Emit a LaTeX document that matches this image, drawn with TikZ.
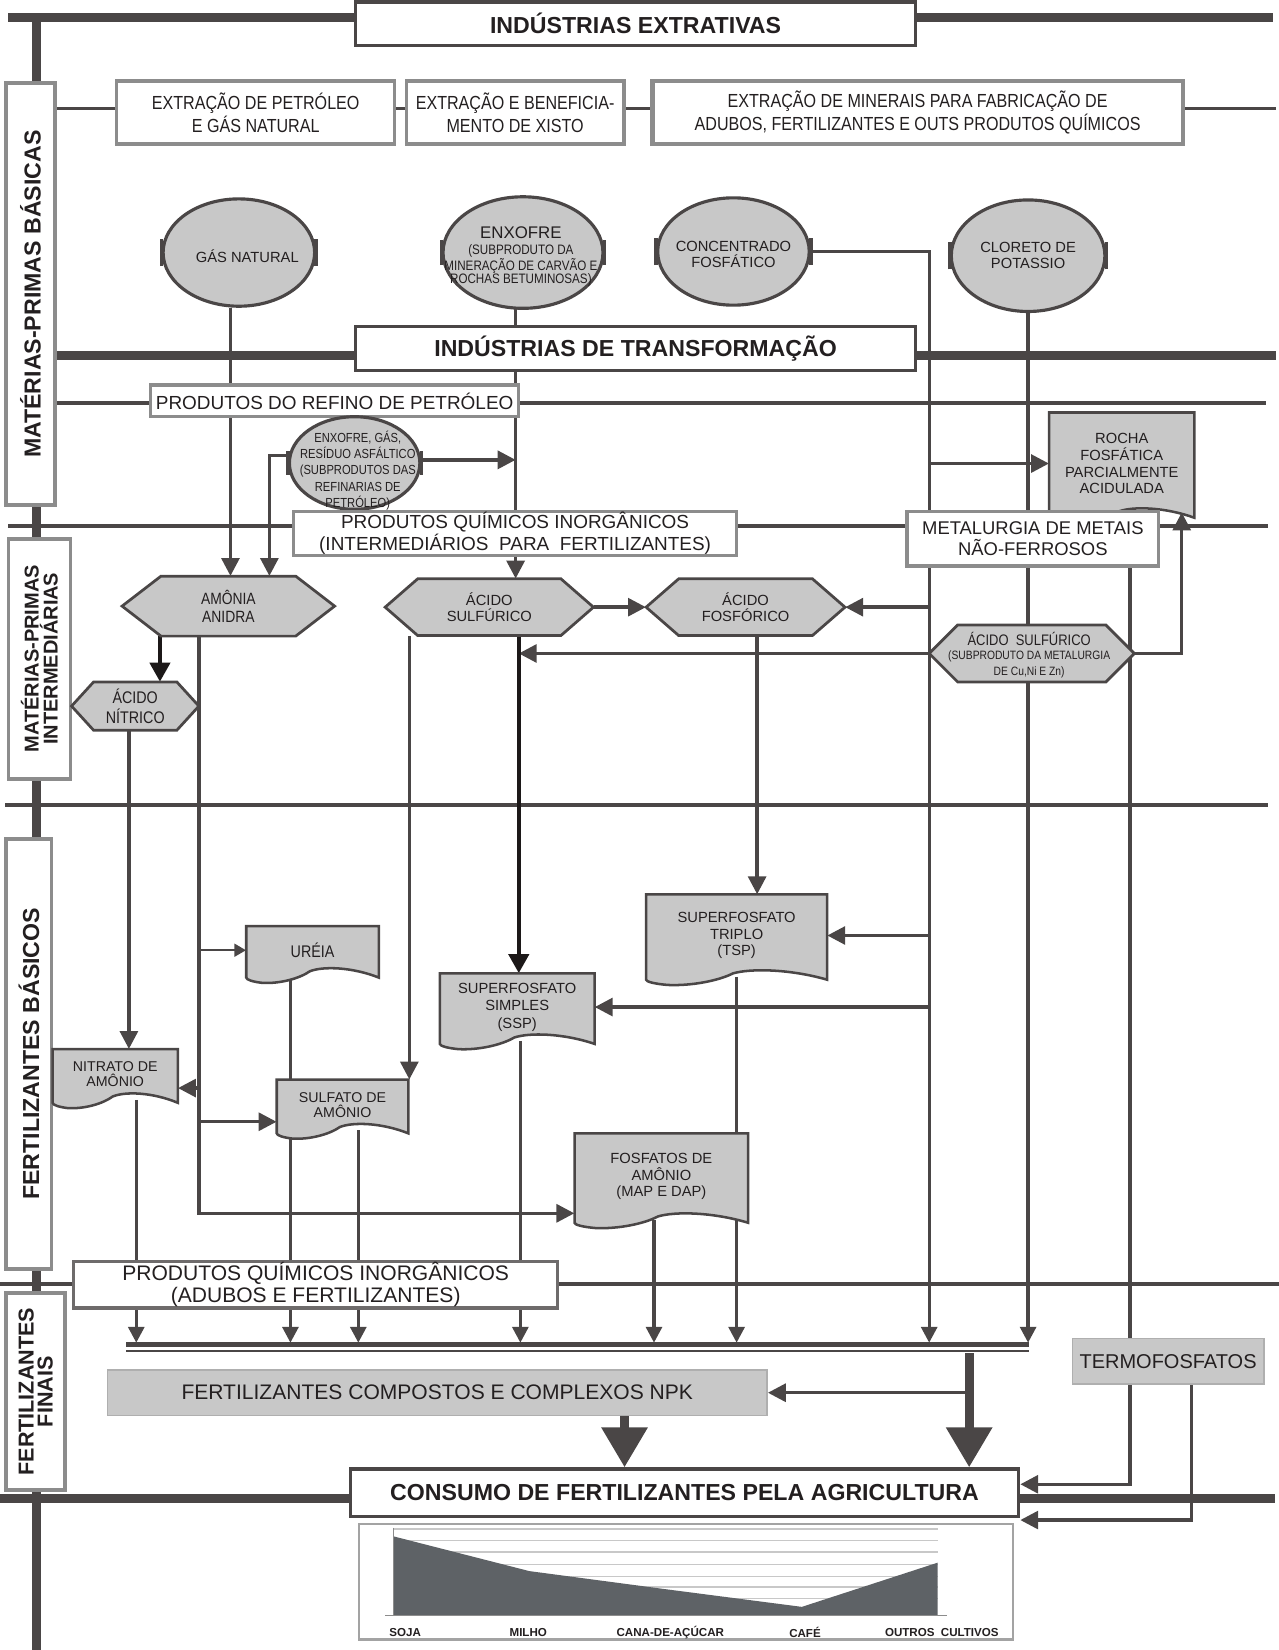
\documentclass[tikz,border=0pt]{standalone}
\usepackage{fontspec}
\setmainfont{Liberation Sans}
\newfontfamily\condfont[FakeStretch=0.85]{Liberation Sans}
\usepackage{xcolor}
\usepackage{tikz}
\usetikzlibrary{shapes.geometric, arrows.meta, backgrounds}

\definecolor{linecol}{HTML}{4A4646}
\definecolor{darkline}{HTML}{1C1818}
\definecolor{boxgray}{HTML}{C8C8C8}
\definecolor{bordgray}{HTML}{8C8C8C}
\definecolor{chartgray}{HTML}{5E6266}
\definecolor{txtcol}{HTML}{231F20}

\newcommand{\fsz}[2]{\fontsize{#1}{#2}\selectfont}

% document shape: name, left, top, right, bottom, font, text
\newcommand{\docnode}[7]{%
  \filldraw[docbox] (#2,#3) -- (#4,#3) -- (#4,#5-5)
    .. controls ({#4-0.2*(#4-#2)},#5-15) and ({#2+0.58*(#4-#2)},#5-16) .. ({#2+0.48*(#4-#2)},#5-11)
    .. controls ({#2+0.4*(#4-#2)},#5-4) and ({#2+0.25*(#4-#2)},#5+1) .. ({#2+0.12*(#4-#2)},#5)
    .. controls ({#2+0.05*(#4-#2)},#5-1) and (#2,#5-3) .. (#2,#5-5) -- cycle;
  \node[doctext, font=#6, minimum width={#4-#2}, minimum height={#5-#3-8}] (#1) at ({(#2+#4)/2},{(#3+#5-8)/2}) {#7};}

% hexagon: name, cx, cy, w, h, inset, font, text
\newcommand{\hexnode}[8]{%
  \filldraw[hexbox] ({#2-#4/2},#3) -- ({#2-#4/2+#6},{#3-#5/2}) -- ({#2+#4/2-#6},{#3-#5/2})
    -- ({#2+#4/2},#3) -- ({#2+#4/2-#6},{#3+#5/2}) -- ({#2-#4/2+#6},{#3+#5/2}) -- cycle;
  \node[hextext, font=#7, minimum width=#4, minimum height=#5] (#1) at (#2,#3) {#8};}

\begin{document}
\begin{tikzpicture}[x=1pt, y=-1pt,
    ln/.style={draw=linecol, line width=3.2pt},
    arr/.style={ln, -{Triangle[length=17pt, width=17pt]}},
    smallarr/.style={ln, line width=2.4pt, -{Triangle[length=11pt, width=12pt]}},
    collarr/.style={ln, -{Triangle[length=15pt, width=15pt]}},
    blackarr/.style={draw=darkline, line width=3.8pt, -{Triangle[length=18pt, width=19pt]}},
    bigarr/.style={ln, line width=8.5pt, -{Triangle[length=38pt, width=42pt]}},
    septhick/.style={draw=linecol, line width=8.5pt},
    septhin/.style={draw=linecol, line width=3.2pt},
    headbox/.style={rectangle, draw=linecol, line width=3.2pt, fill=white, inner sep=0pt, font=\bfseries\fsz{22}{24}, text=txtcol},
    grbox/.style={rectangle, draw=bordgray, line width=3.2pt, fill=white, inner sep=0pt, align=center, text=txtcol},
    catbox/.style={rectangle, draw=bordgray, line width=3.5pt, fill=white, inner sep=0pt, rotate=90, align=center, text=txtcol},
    fillbox/.style={rectangle, draw=bordgray!70, line width=1.5pt, fill=boxgray, inner sep=0pt, text=txtcol},
    ellip/.style={ellipse, draw=linecol, line width=3pt, fill=boxgray, inner sep=0pt},
    etext/.style={align=center, text=txtcol, inner sep=0pt},
    hexbox/.style={draw=linecol, line width=2.6pt, fill=boxgray},
    hextext/.style={inner sep=0pt, align=center, text=txtcol},
    docbox/.style={draw=linecol, line width=2.4pt, fill=boxgray},
    doctext/.style={inner sep=0pt, align=center, text=txtcol},
    ebar/.style={draw=linecol, line width=3.5pt},
    chartlbl/.style={font=\bfseries\fsz{11}{12}, text=txtcol, inner sep=0pt}
]
\useasboundingbox (0,0) rectangle (1215,1568);

% level headers
\node[headbox, minimum width=532pt, minimum height=41pt] (ext) at (604,22.5) {INDÚSTRIAS EXTRATIVAS};
\node[headbox, minimum width=532pt, minimum height=42pt] (tra) at (604,331) {INDÚSTRIAS DE TRANSFORMAÇÃO};
\node[headbox, minimum width=635pt, minimum height=45pt] (cons) at (650.5,1418.5) {CONSUMO DE FERTILIZANTES PELA AGRICULTURA};

% stage labels on the left
\node[catbox, minimum width=401pt, minimum height=47pt, font=\bfseries\fsz{22}{23}] (catmpb) at (29,279.5) {MATÉRIAS-PRIMAS BÁSICAS};
\node[catbox, minimum width=228pt, minimum height=59pt, font=\bfseries\fsz{19}{17}] (catmpi) at (37.5,626) {MATÉRIAS-PRIMAS\\INTERMEDIÁRIAS};
\node[catbox, minimum width=409pt, minimum height=43pt, font=\bfseries\fsz{22}{23}] (catfb) at (27.5,1001.5) {FERTILIZANTES BÁSICOS};
\node[catbox, minimum width=187pt, minimum height=56pt, font=\bfseries\fsz{20.5}{18}] (catff) at (34,1322.5) {FERTILIZANTES\\FINAIS};

% extraction
\node[grbox, minimum width=264pt, minimum height=60pt, font=\condfont\fsz{18}{22}] (petro) at (243,107) {EXTRAÇÃO DE PETRÓLEO\\E GÁS NATURAL};
\node[grbox, minimum width=207pt, minimum height=60pt, font=\condfont\fsz{18}{22}] (xisto) at (489.5,107) {EXTRAÇÃO E BENEFICIA-\\MENTO DE XISTO};
\node[grbox, minimum width=504pt, minimum height=60pt, line width=4pt, font=\condfont\fsz{18}{22}] (minerais) at (872,107) {EXTRAÇÃO DE MINERAIS PARA FABRICAÇÃO DE\\ADUBOS, FERTILIZANTES E OUTS PRODUTOS QUÍMICOS};

% raw materials
\node[ellip, minimum width=144pt, minimum height=102pt] (gas) at (227,240) {};
\node[etext, font=\fsz{14}{16}] (gast) at (235,243) {GÁS NATURAL};
\node[ellip, minimum width=152pt, minimum height=106pt] (enx) at (497,240) {};
\node[etext, font=\fsz{16}{18}] (enxt) at (495,221) {ENXOFRE};
\node[etext, font=\condfont\fsz{13}{12.5}] (enxs) at (495,252) {(SUBPRODUTO DA\\MINERAÇÃO DE CARVÃO E\\ROCHAS BETUMINOSAS)};
\node[ellip, minimum width=144pt, minimum height=102pt] (conc) at (697,239) {};
\node[etext, font=\fsz{14}{15}] (conct) at (697,242) {CONCENTRADO\\FOSFÁTICO};
\node[ellip, minimum width=146pt, minimum height=106pt] (kcl) at (977,243) {};
\node[etext, font=\fsz{14}{15}] (kclt) at (977,243) {CLORETO DE\\POTASSIO};

% refining
\node[grbox, minimum width=350pt, minimum height=30pt, font=\fsz{18}{20}] (refino) at (318,381) {PRODUTOS DO REFINO DE PETRÓLEO};
\node[ellip, minimum width=124pt, minimum height=88pt] (rsub) at (337,440) {};
\node[etext, font=\condfont\fsz{12.5}{15.5}] (rsubt) at (340,447) {ENXOFRE, GÁS,\\RESÍDUO ASFÁLTICO\\(SUBPRODUTOS DAS\\REFINARIAS DE\\PETRÓLEO)};
\docnode{rocha}{997}{392}{1135}{497}{\fsz{14}{16}}{ROCHA\\FOSFÁTICA\\PARCIALMENTE\\ACIDULADA}
\node[grbox, minimum width=421pt, minimum height=42pt, font=\fsz{18}{21}] (pqi) at (489.5,507) {PRODUTOS QUÍMICOS INORGÂNICOS\\(INTERMEDIÁRIOS\ \ PARA\ \ FERTILIZANTES)};
\node[grbox, minimum width=239pt, minimum height=52pt, font=\fsz{17.5}{20}] (metal) at (981.5,512) {METALURGIA DE METAIS\\NÃO-FERROSOS};

% intermediates
\hexnode{amonia}{217}{576}{202}{57}{37}{\condfont\fsz{15.5}{17}}{AMÔNIA\\ANIDRA}
\hexnode{sulf}{465}{577}{198}{54}{31}{\fsz{14}{15}}{ÁCIDO\\SULFÚRICO}
\hexnode{fosf}{708.5}{577}{189}{54}{31}{\fsz{14}{16}}{ÁCIDO\\FOSFÓRICO}
\hexnode{sulfmet}{980.5}{621}{195}{54}{27}{\fsz{14}{16}}{}
\node[etext, font=\condfont\fsz{14.5}{16}] (sulfmett) at (978,607) {ÁCIDO\ \ SULFÚRICO};
\node[etext, font=\condfont\fsz{11.5}{15}] (sulfmets) at (978,631) {(SUBPRODUTO DA METALURGIA\\DE Cu,Ni E Zn)};
\hexnode{nitr}{128.5}{671}{121}{46}{21}{\condfont\fsz{16}{19}}{ÁCIDO\\NÍTRICO}

% basic fertilizers
\docnode{ureia}{234}{880}{360}{934}{\condfont\fsz{16}{18}}{URÉIA}
\docnode{tsp}{614}{850}{786}{936}{\fsz{14}{16}}{SUPERFOSFATO\\TRIPLO\\(TSP)}
\docnode{ssp}{418}{925}{565}{997}{\fsz{14}{16.5}}{SUPERFOSFATO\\SIMPLES\\(SSP)}
\docnode{nitra}{50}{997}{169}{1053}{\fsz{13.5}{14.5}}{NITRATO DE\\AMÔNIO}
\docnode{sulfa}{263}{1026}{388}{1082}{\fsz{13.5}{14.5}}{SULFATO DE\\AMÔNIO}
\docnode{fosam}{546}{1077}{711}{1167}{\fsz{14}{16}}{FOSFATOS DE\\AMÔNIO\\(MAP E DAP)}

% final fertilizers
\node[grbox, draw=linecol!80, minimum width=460pt, minimum height=44pt, font=\fsz{20}{21}] (pqa) at (300,1221) {PRODUTOS QUÍMICOS INORGÂNICOS\\(ADUBOS E FERTILIZANTES)};
\node[fillbox, minimum width=627pt, minimum height=43pt, font=\fsz{20}{22}] (npk) at (415.5,1323.5) {FERTILIZANTES COMPOSTOS E COMPLEXOS NPK};
\node[fillbox, minimum width=182pt, minimum height=43pt, font=\fsz{19}{21}] (termo) at (1110,1293.5) {TERMOFOSFATOS};

% little bars on the ellipses
\foreach \n/\h in {gas/13, enx/12, conc/13, kcl/13, rsub/11} {
  \draw[ebar] ([yshift=-\h pt]\n.west) -- ([yshift=\h pt]\n.west);
  \draw[ebar] ([yshift=-\h pt]\n.east) -- ([yshift=\h pt]\n.east);
}

% consumption chart
\node[draw=bordgray!80, line width=2pt, fill=white, minimum width=622pt, minimum height=110pt, inner sep=0pt] (chart) at (652,1503) {};
\foreach \y in {1453,1464,1475,1487,1498,1508,1519}
  \draw[boxgray, line width=1.3pt] (374,\y) -- (891,\y);
\fill[chartgray] (374,1535) -- (374,1460) -- (503,1493) -- (631,1510) -- (762,1527) -- (891,1485) -- (891,1535) -- cycle;
\draw[bordgray, line width=1.2pt] (374,1452) -- (374,1535);
\draw[bordgray, line width=1.2pt] (366,1535) -- (900,1535);
\foreach \x/\t/\nm in {385/SOJA/soja, 502/MILHO/milho, 637/CANA-DE-AÇÚCAR/cana, 765/CAFÉ/cafe, 895/OUTROS\ \ CULTIVOS/outros}
  \node[chartlbl] (lb\nm) at (\x,1551) {\t};

\begin{scope}[on background layer]
% spine and level lines
\draw[septhick] (35,17) -- (35,1568);
\draw[septhick] (8,17) -- (1210,17);
\draw[septhick] (35,338) -- (1213,338);
\draw[septhick] (0,1424) -- (1212,1424);
\foreach \y/\a/\b in {103/35/1213, 383/35/1203, 500/8/1205, 765/5/1205, 1220/0/1215}
  \draw[septhin] (\a,\y) -- (\b,\y);

% bus lines
\coordinate (collT) at (0,1276);
\coordinate (pbus) at (883,244);
\coordinate (enxdown) at (490,280);
\coordinate (sbus) at (493,604);
\coordinate (abus) at (189,604);
\coordinate (tbus) at (1074,538);
\coordinate (tbus2) at (1132,1315);
\coordinate (rbus) at (1123,487);
\coordinate (cbus) at (921,1286);

% raw materials to intermediates
\draw[arr] ([xshift=-8pt]gas.south) -- ([xshift=-8pt]gas.south |- amonia.north);
\draw[arr] ([yshift=7pt]rsub.west) -| ([xshift=39pt]amonia.north);
\draw[arr] ([yshift=3pt]rsub.east) -- ([yshift=3pt]rsub.east -| enxdown);
\draw[arr] (enxdown) -- (enxdown |- sulf.north);
\draw[collarr] (conc.east) -| (pbus |- collT);
\draw[arr] (pbus |- rocha.west) -- (rocha.west);
\draw[arr] (pbus |- fosf.east) -- (fosf.east);
\draw[arr] (pbus |- tsp.east) -- (tsp.east);
\draw[arr] (pbus |- ssp.east) -- (ssp.east);
\draw[collarr] (kcl.south) -- (kcl.south |- collT);
\draw[ln] (tbus |- metal.south) -- (tbus |- termo.north);
\draw[arr] (sulfmet.west) -- (sulfmet.west -| sbus);
\draw[arr] (sulfmet.east) -| (rbus);
\draw[arr] (sulf.east) -- (fosf.west);

% intermediates to basic fertilizers
\draw[blackarr] (sbus) -- (sbus |- ssp.north);
\draw[arr] ([xshift=-76pt]sulf.south) -- ([xshift=-76pt]sulf.south |- sulfa.north);
\draw[arr] ([xshift=11pt]fosf.south) -- ([xshift=11pt]fosf.south |- tsp.north);
\draw[blackarr] ([xshift=-65pt]amonia.south) -- ([xshift=-65pt]amonia.south |- nitr.north);
\draw[arr] ([xshift=-6pt]nitr.south) -- ([xshift=-6pt]nitr.south |- nitra.north);
\coordinate (nitraIn) at ([yshift=-13pt]nitra.east);
\coordinate (sulfaIn) at ([yshift=-16pt]sulfa.west);
\draw[arr] (abus) |- ([yshift=-35pt]fosam.west);
\draw[smallarr] (abus |- ureia.west) -- (ureia.west);
\draw[arr] (abus |- nitraIn) -- (nitraIn);
\draw[arr] (abus |- sulfaIn) -- (sulfaIn);

% basic fertilizers to the collector
\foreach \src/\dx in {nitra/20, ureia/-21, sulfa/15, ssp/3, fosam/-7, tsp/0} {
  \coordinate (s) at ([xshift=\dx pt]\src.south);
  \draw[collarr] (s) -- (s |- collT);
}
\draw[ln, line width=5pt] (120,1278) -- (978,1278);
\draw[ln, line width=1.6pt] (120,1284) -- (978,1284);

% to consumption
\draw[bigarr] (cbus) -- (cbus |- cons.north);
\draw[arr] (cbus |- npk.east) -- (npk.east);
\coordinate (npkout) at ([xshift=178pt]npk.south);
\draw[bigarr] (npkout) -- (npkout |- cons.north);
\draw[arr] (tbus |- termo.south) |- ([yshift=8pt]cons.east);
\draw[arr] (tbus2) |- ([yshift=-26pt]cons.east);
\end{scope}
\end{tikzpicture}
\end{document}
